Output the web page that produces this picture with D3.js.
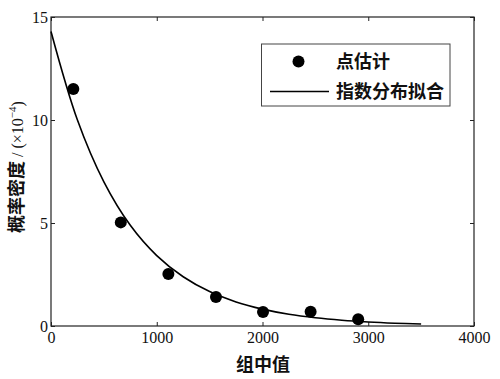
<!DOCTYPE html>
<html><head><meta charset="utf-8">
<script src="https://cdn.jsdelivr.net/npm/d3@7"></script>
<style>body{margin:0;background:#fff}svg{display:block}</style>
</head><body>
<svg id="c" width="500" height="379"></svg>
<script>
// point estimates (组中值, 概率密度 ×10^-4)
const groupMid = [211, 660, 1110, 1560, 2005, 2455, 2905];
const density = [11.5, 5.03, 2.52, 1.41, 0.68, 0.69, 0.33];
// exponential fit curve
const fitX = [0, 250, 500, 750, 1000, 1250, 1500, 1750, 2000, 2250, 2500, 2750, 3000, 3250, 3500];
const fitY = [14.3, 10.0, 7.0, 4.89, 3.42, 2.39, 1.67, 1.17, 0.82, 0.57, 0.40, 0.28, 0.196, 0.137, 0.096];
const xTicks = [0, 1000, 2000, 3000, 4000];
const yTicks = [0, 5, 10, 15];
const legendLabels = ["点估计", "指数分布拟合"];
const xTitle = "组中值";
const yTitleCJK = "概率密度";

const L = 51, R = 474, T = 17, B = 326;
const svg = d3.select("#c");
const x = d3.scaleLinear().domain([0, 4000]).range([L, R]);
const y = d3.scaleLinear().domain([0, 15]).range([B, T]);
const serif = "'Liberation Serif','Times New Roman',serif";
const cjk = "'Noto Sans CJK SC','Noto Sans CJK JP',sans-serif";
const axCol = "#222";

// frame
svg.append("rect").attr("x", L).attr("y", T).attr("width", R - L).attr("height", B - T)
  .attr("fill", "none").attr("stroke", axCol).attr("stroke-width", 1.2);

function styleAxis(g) {
  g.select(".domain").remove();
  g.selectAll(".tick line").attr("stroke", axCol);
  g.selectAll(".tick text").attr("font-family", serif).attr("font-size", 16).attr("fill", "#111");
}
// bottom axis with inward ticks
svg.append("g").attr("transform", `translate(0,${B})`)
  .call(d3.axisBottom(x).tickValues(xTicks).tickSize(-4).tickPadding(6).tickFormat(d3.format("d")))
  .call(styleAxis);
svg.append("g").attr("transform", `translate(0,${T})`)
  .call(d3.axisTop(x).tickValues(xTicks).tickSize(-4).tickFormat(""))
  .call(styleAxis);
svg.append("g").attr("transform", `translate(${L},0)`)
  .call(d3.axisLeft(y).tickValues(yTicks).tickSize(-4).tickPadding(3).tickFormat(d3.format("d")))
  .call(styleAxis);
svg.append("g").attr("transform", `translate(${R},0)`)
  .call(d3.axisRight(y).tickValues(yTicks).tickSize(-4).tickFormat(""))
  .call(styleAxis);

// fit curve
const fit = fitX.map((v, i) => [v, fitY[i]]);
svg.append("path").datum(fit)
  .attr("d", d3.line().x(d => x(d[0])).y(d => y(d[1])).curve(d3.curveCatmullRom))
  .attr("fill", "none").attr("stroke", "#000").attr("stroke-width", 1.6);

// points
svg.append("g").selectAll("circle").data(groupMid).join("circle")
  .attr("cx", d => x(d)).attr("cy", (d, i) => y(density[i])).attr("r", 6).attr("fill", "#000");

// legend
const lg = svg.append("g");
lg.append("rect").attr("x", 261.5).attr("y", 44).attr("width", 188.5).attr("height", 62)
  .attr("fill", "#fff").attr("stroke", "#444").attr("stroke-width", 1);
lg.append("circle").attr("cx", 298.5).attr("cy", 61.5).attr("r", 6).attr("fill", "#000");
lg.append("line").attr("x1", 270).attr("x2", 329).attr("y1", 91.5).attr("y2", 91.5)
  .attr("stroke", "#000").attr("stroke-width", 1.6);
lg.selectAll("text").data(legendLabels).join("text")
  .attr("x", 336).attr("y", (d, i) => i === 0 ? 61.5 : 91.5).attr("dy", "0.36em")
  .attr("font-family", cjk).attr("font-weight", "bold").attr("font-size", 18).attr("fill", "#111")
  .text(d => d);

// axis titles
svg.append("text").attr("x", (L + R) / 2 + 0.5).attr("y", 365).attr("dy", "0.36em")
  .attr("text-anchor", "middle").attr("font-family", cjk).attr("font-weight", "bold")
  .attr("font-size", 18).attr("fill", "#111").text(xTitle);

const yt = svg.append("text").attr("transform", "translate(17,167) rotate(-90)")
  .attr("text-anchor", "middle").attr("dy", "0.36em").attr("fill", "#111");
yt.append("tspan").attr("font-family", cjk).attr("font-weight", "bold").attr("font-size", 18).text(yTitleCJK);
yt.append("tspan").attr("font-family", serif).attr("font-size", 16).text("\u00a0/\u00a0(×10");
yt.append("tspan").attr("font-family", serif).attr("font-size", 11).attr("dy", "-0.6em").text("−4");
yt.append("tspan").attr("font-family", serif).attr("font-size", 16).attr("dy", "0.45em").text(")");
</script>
</body></html>
